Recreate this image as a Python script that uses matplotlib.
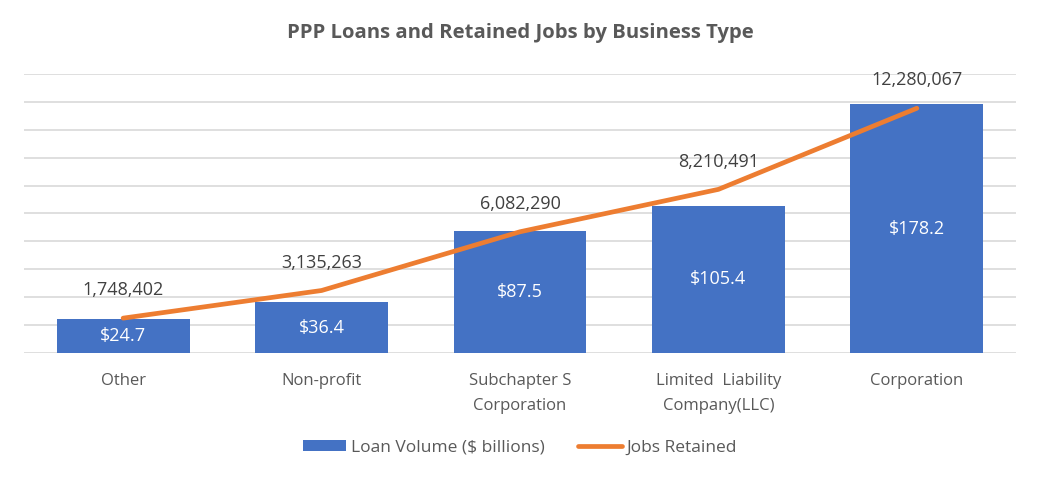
import numpy as np
import matplotlib.pyplot as plt
from matplotlib.patches import Patch
from matplotlib.lines import Line2D

plt.rcParams['font.family'] = ['Open Sans', 'DejaVu Sans']

categories = ['Other', 'Non-profit', 'Subchapter S\nCorporation',
              'Limited  Liability\nCompany(LLC)', 'Corporation']
loan_volume = [24.7, 36.4, 87.5, 105.4, 178.2]
jobs_retained = [1748402, 3135263, 6082290, 8210491, 12280067]

bar_color = '#4472C4'
line_color = '#ED7D31'
text_color = '#595959'
grid_color = '#D9D9D9'

fig = plt.figure(figsize=(10.4, 4.8), dpi=100)
ax = fig.add_axes([0.023, 0.2646, 0.954, 0.5813])

x = np.arange(len(categories))
bars = ax.bar(x, loan_volume, width=0.67, color=bar_color, zorder=2)
ax.set_xlim(-0.5, len(categories) - 0.5)
ax.set_ylim(0, 200)
ax.set_yticks(np.arange(0, 201, 20))
ax.yaxis.grid(True, color=grid_color, linewidth=1.2, zorder=0)
ax.set_axisbelow(True)
ax.set_xticks(x)
ax.set_xticklabels(categories, color=text_color, fontsize=12, linespacing=1.75)
for s in ax.spines.values():
    s.set_visible(False)

for rect, v in zip(bars, loan_volume):
    ax.text(rect.get_x() + rect.get_width() / 2, v / 2, f'${v:.1f}',
            ha='center', va='center', color='white', fontsize=13, zorder=3)

ax2 = ax.twinx()
ax2.set_ylim(0, 14000000)
ax2.plot(x, jobs_retained, color=line_color, linewidth=3.4,
         solid_capstyle='round', zorder=4)
ax2.set_yticks([])
for s in ax2.spines.values():
    s.set_visible(False)
for xi, v in zip(x, jobs_retained):
    ax2.annotate(f'{v:,}', (xi, v), xytext=(0, 20), textcoords='offset points',
                 ha='center', va='center', color='#404040', fontsize=13)

# twinx re-enables ticks on the host axis, so switch them off afterwards
ax.tick_params(axis='y', left=False, right=False, labelleft=False, labelright=False)
ax.tick_params(axis='x', bottom=False, colors=text_color, labelsize=12, pad=11)
ax2.tick_params(axis='both', left=False, right=False, bottom=False,
                labelleft=False, labelright=False)

fig.text(0.5, 1 - 33 / 480, 'PPP Loans and Retained Jobs by Business Type',
         ha='center', va='center', fontsize=14.6, fontweight='bold', color=text_color)

handles = [Patch(facecolor=bar_color, edgecolor='none'),
           Line2D([0], [0], color=line_color, linewidth=3.4, solid_capstyle='round')]
fig.legend(handles, ['Loan Volume ($ billions)', 'Jobs Retained'],
           loc='center', bbox_to_anchor=(0.5, 1 - 448 / 480), ncol=2,
           frameon=False, fontsize=12.5, labelcolor=text_color,
           handlelength=2.5, handleheight=0.6, handletextpad=0.3, columnspacing=1.9)

fig.savefig('out.png', dpi=100)
